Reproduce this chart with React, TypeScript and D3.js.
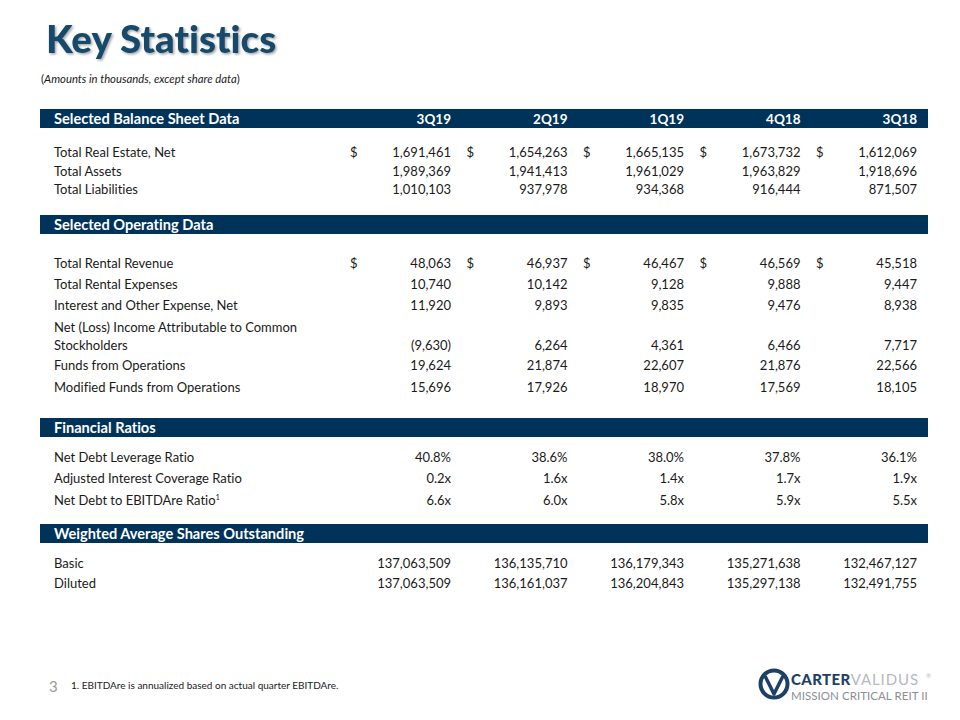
import React from "react";
import * as d3 from "d3";

const quarters = ["3Q19", "2Q19", "1Q19", "4Q18", "3Q18"];

const balanceLabels = ["Total Real Estate, Net", "Total Assets", "Total Liabilities"];
const totalRealEstate = [1691461, 1654263, 1665135, 1673732, 1612069];
const totalAssets = [1989369, 1941413, 1961029, 1963829, 1918696];
const totalLiabilities = [1010103, 937978, 934368, 916444, 871507];

const operatingLabels = [
  "Total Rental Revenue",
  "Total Rental Expenses",
  "Interest and Other Expense, Net",
  "Net (Loss) Income Attributable to Common|Stockholders",
  "Funds from Operations",
  "Modified Funds from Operations",
];
const rentalRevenue = [48063, 46937, 46467, 46569, 45518];
const rentalExpenses = [10740, 10142, 9128, 9888, 9447];
const interestExpense = [11920, 9893, 9835, 9476, 8938];
const netIncome = [-9630, 6264, 4361, 6466, 7717];
const ffo = [19624, 21874, 22607, 21876, 22566];
const mffo = [15696, 17926, 18970, 17569, 18105];

const ratioLabels = ["Net Debt Leverage Ratio", "Adjusted  Interest Coverage Ratio", "Net Debt to EBITDAre Ratio"];
const netDebtLeverage = [40.8, 38.6, 38.0, 37.8, 36.1];
const interestCoverage = [0.2, 1.6, 1.4, 1.7, 1.9];
const debtToEbitda = [6.6, 6.0, 5.8, 5.9, 5.5];

const shareLabels = ["Basic", "Diluted"];
const basicShares = [137063509, 136135710, 136179343, 135271638, 132467127];
const dilutedShares = [137063509, 136161037, 136204843, 135297138, 132491755];

const sectionTitles = [
  "Selected Balance Sheet Data",
  "Selected Operating Data",
  "Financial Ratios",
  "Weighted Average Shares Outstanding",
];

const NAVY = "#003359";
const FONT = "Lato, 'Open Sans', sans-serif";
const TEXT = "#1a1a1a";

const fmtInt = d3.format(",");
const fmtAcct = (v: number) => (v < 0 ? `(${fmtInt(-v)})` : fmtInt(v));
const fmtPct = (v: number) => `${d3.format(".1f")(v)}%`;
const fmtX = (v: number) => `${d3.format(".1f")(v)}x`;

type Row = { label: string; values: number[]; fmt: (v: number) => string; dollar?: boolean; sup?: string };

const sections: { title: string; header: boolean; rows: Row[] }[] = [
  {
    title: sectionTitles[0],
    header: true,
    rows: [
      { label: balanceLabels[0], values: totalRealEstate, fmt: fmtInt, dollar: true },
      { label: balanceLabels[1], values: totalAssets, fmt: fmtInt },
      { label: balanceLabels[2], values: totalLiabilities, fmt: fmtInt },
    ],
  },
  {
    title: sectionTitles[1],
    header: false,
    rows: [
      { label: operatingLabels[0], values: rentalRevenue, fmt: fmtAcct, dollar: true },
      { label: operatingLabels[1], values: rentalExpenses, fmt: fmtAcct },
      { label: operatingLabels[2], values: interestExpense, fmt: fmtAcct },
      { label: operatingLabels[3], values: netIncome, fmt: fmtAcct },
      { label: operatingLabels[4], values: ffo, fmt: fmtAcct },
      { label: operatingLabels[5], values: mffo, fmt: fmtAcct },
    ],
  },
  {
    title: sectionTitles[2],
    header: false,
    rows: [
      { label: ratioLabels[0], values: netDebtLeverage, fmt: fmtPct },
      { label: ratioLabels[1], values: interestCoverage, fmt: fmtX },
      { label: ratioLabels[2], values: debtToEbitda, fmt: fmtX, sup: "1" },
    ],
  },
  {
    title: sectionTitles[3],
    header: false,
    rows: [
      { label: shareLabels[0], values: basicShares, fmt: fmtInt },
      { label: shareLabels[1], values: dilutedShares, fmt: fmtInt },
    ],
  },
];

// layout (pixel positions of bars and rows)
const barTops = [109, 215, 418, 524];
const rowYs = [
  [152, 171, 189],
  [263, 284, 305, 345, 365, 387],
  [457, 478, 500],
  [563, 583],
];

export default function App() {
  const x = d3.scaleLinear().domain([0, quarters.length - 1]).range([451, 917]);
  const barX0 = 40;
  const barX1 = 928;
  const barH = 19;
  const labelX = 54;
  const fs = 13;

  return (
    <svg
      width={960}
      height={720}
      style={{ position: "absolute", left: 0, top: 0, background: "#fff", fontVariantLigatures: "none" }}
    >
      <defs>
        <filter id="shadow" x="-10%" y="-10%" width="120%" height="140%">
          <feDropShadow dx="1.5" dy="1.5" stdDeviation="1.2" floodColor="#000" floodOpacity="0.35" />
        </filter>
      </defs>
      <rect width={960} height={720} fill="#fff" />
      <text x={46} y={53} fontFamily={FONT} fontWeight={900} fontSize={38.5} fill="#17486b" filter="url(#shadow)">
        Key Statistics
      </text>
      <text x={41} y={83} fontFamily={FONT} fontSize={11.3} fill={TEXT}>
        (<tspan fontStyle="italic">Amounts in thousands, except share data</tspan>)
      </text>

      {sections.map((s, si) => (
        <g key={s.title}>
          <rect x={barX0} y={barTops[si]} width={barX1 - barX0} height={barH} fill={NAVY} />
          <text x={labelX} y={barTops[si] + 14.5} fontFamily={FONT} fontWeight={700} fontSize={14.6} fill="#fff">
            {s.title}
          </text>
          {s.header &&
            quarters.map((q, i) => (
              <text key={q} x={x(i)} y={barTops[si] + 14.5} textAnchor="end" fontFamily={FONT} fontWeight={700} fontSize={13.5} fill="#fff">
                {q}
              </text>
            ))}
          {s.rows.map((r, ri) => {
            const y = rowYs[si][ri] + 4.5;
            const lines = r.label.split("|");
            return (
              <g key={r.label}>
                {lines.length > 1 ? (
                  lines.map((ln, li) => (
                    <text key={li} x={labelX} y={y - (lines.length - 1 - li) * 18} fontFamily={FONT} fontSize={fs} fill={TEXT}>
                      {ln}
                    </text>
                  ))
                ) : (
                  <text x={labelX} y={y} fontFamily={FONT} fontSize={fs} fill={TEXT}>
                    {r.label}
                    {r.sup && (
                      <tspan fontSize={7.5} dy={-5}>
                        {r.sup}
                      </tspan>
                    )}
                  </text>
                )}
                {r.values.map((v, i) => (
                  <g key={i}>
                    {r.dollar && (
                      <text x={x(i) - 101} y={y} fontFamily={FONT} fontSize={fs} fill={TEXT}>
                        $
                      </text>
                    )}
                    <text x={x(i)} y={y} textAnchor="end" fontFamily={FONT} fontSize={fs} fill={TEXT}>
                      {r.fmt(v)}
                    </text>
                  </g>
                ))}
              </g>
            );
          })}
        </g>
      ))}

      <text x={49} y={692} fontFamily={FONT} fontSize={15} fill="#9a9a9a">
        3
      </text>
      <text x={71} y={689} fontFamily={FONT} fontSize={10} fill={TEXT}>
        1. EBITDAre is annualized based on actual quarter EBITDAre.
      </text>

      {/* logo */}
      <g>
        <circle cx={774} cy={684} r={13.5} fill="none" stroke="#1e3f66" strokeWidth={4} />
        <path d="M765,676 L774,694 L783,676" fill="none" stroke="#1e3f66" strokeWidth={3.5} strokeLinejoin="round" />
        <text x={791} y={684.5} fontFamily={FONT} fontWeight={900} fontSize={15} fill="#1e3f66" letterSpacing={0.4}>
          CARTER
          <tspan fontWeight={400} fill="#b5b9be" letterSpacing={0.9}>VALIDUS</tspan>
        </text>
        <text x={926} y={678} fontFamily={FONT} fontSize={6} fill="#b5b9be">®</text>
        <text x={791} y={700} fontFamily={FONT} fontSize={11.5} fill="#8a8e94" letterSpacing={0.05}>
          MISSION CRITICAL REIT II
        </text>
      </g>
    </svg>
  );
}
